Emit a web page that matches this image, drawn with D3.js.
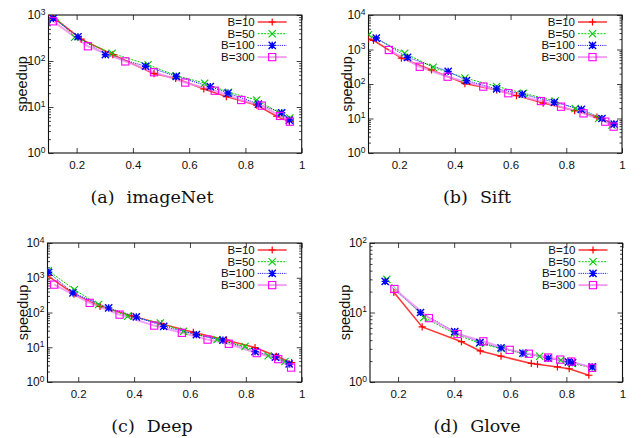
<!DOCTYPE html>
<html>
<head>
<meta charset="utf-8">
<script src="https://cdn.jsdelivr.net/npm/d3@7"></script>
<style>
  html, body { margin: 0; padding: 0; background: #fff; }
  svg { display: block; }
</style>
</head>
<body>
<script>
// ---------------- DATA ----------------
const seriesNames = ["B=10", "B=50", "B=100", "B=300"];
const xTickValues = [0.2, 0.4, 0.6, 0.8, 1];
const xTickLabels = ["0.2", "0.4", "0.6", "0.8", "1"];

// (a) imageNet  [recall, speedup]
const imageNet_B10  = [[0.11,966],[0.216,300],[0.329,137],[0.475,53],[0.552,42],[0.652,24.6],[0.732,16.8],[0.84,11],[0.911,6.3],[0.956,4.8]];
const imageNet_B50  = [[0.123,920],[0.193,327],[0.326,147],[0.454,83],[0.554,48],[0.655,33],[0.74,21],[0.84,14.2],[0.923,7.3],[0.958,5.8]];
const imageNet_B100 = [[0.117,847],[0.205,337],[0.302,137],[0.445,77],[0.554,46.5],[0.675,27.6],[0.738,20.1],[0.846,11.6],[0.929,7.5],[0.956,5.2]];
const imageNet_B300 = [[0.116,730],[0.24,209],[0.373,98],[0.475,57],[0.586,34],[0.691,22.6],[0.785,14.2],[0.858,10.7],[0.923,6.4],[0.958,4.8]];

// (b) Sift
const sift_B10  = [[0.09,2000],[0.108,1850],[0.208,565],[0.316,255],[0.436,103],[0.55,67],[0.621,46],[0.717,28],[0.83,17],[0.91,11],[0.97,7]];
const sift_B50  = [[0.09,2700],[0.22,776],[0.322,305],[0.436,150],[0.55,85],[0.647,54],[0.76,32],[0.832,19.5],[0.916,10],[0.964,6.5]];
const sift_B100 = [[0.118,2150],[0.23,594],[0.376,233],[0.442,125],[0.55,72],[0.642,51],[0.757,29.5],[0.854,18.5],[0.928,10],[0.972,6.9]];
const sift_B300 = [[0.163,968],[0.274,316],[0.374,163],[0.502,84],[0.592,54],[0.709,32],[0.781,22],[0.862,14.1],[0.94,8.1],[0.97,5.8]];

// (c) Deep
const deep_B10  = [[0.09,1150],[0.185,340],[0.278,150],[0.391,80],[0.499,47],[0.612,27],[0.731,16],[0.833,9.8],[0.91,5.5],[0.964,3.6]];
const deep_B50  = [[0.093,1600],[0.186,455],[0.273,169],[0.377,78],[0.494,50],[0.577,29],[0.697,16.7],[0.797,10.5],[0.88,5.7],[0.94,3.9]];
const deep_B100 = [[0.094,1440],[0.181,365],[0.309,136],[0.408,75],[0.506,40],[0.623,23],[0.718,16],[0.833,7.5],[0.906,5.2],[0.955,3.3]];
const deep_B300 = [[0.114,634],[0.241,189],[0.348,87],[0.472,42],[0.571,26],[0.663,16.6],[0.739,12.6],[0.839,6.8],[0.916,4.55],[0.962,2.6]];

// (d) Glove
const glove_B10  = [[0.185,19.5],[0.286,6.2],[0.426,3.8],[0.493,2.8],[0.567,2.35],[0.675,1.85],[0.697,1.8],[0.768,1.65],[0.81,1.55],[0.88,1.25]];
const glove_B50  = [[0.16,30],[0.292,8.5],[0.40,5.0],[0.49,3.6],[0.57,3.0],[0.65,2.55],[0.705,2.35],[0.78,2.05],[0.82,1.85],[0.89,1.6]];
const glove_B100 = [[0.154,28],[0.28,10],[0.402,5.3],[0.492,3.7],[0.567,3.1],[0.645,2.6],[0.735,2.2],[0.807,1.95],[0.822,1.9],[0.892,1.65]];
const glove_B300 = [[0.187,21.8],[0.31,8.3],[0.412,4.9],[0.504,3.85],[0.598,2.9],[0.666,2.55],[0.735,2.25],[0.778,2.1],[0.817,1.97],[0.892,1.6]];

const captionLabels = ["(a)", "(b)", "(c)", "(d)"];
const captionNames  = ["imageNet", "Sift", "Deep", "Glove"];
const yLabel = "speedup";

// ---------------- LAYOUT / STYLE ----------------
const W = 641, H = 438;
const panels = [
  {data:[imageNet_B10,imageNet_B50,imageNet_B100,imageNet_B300], left:48.5, right:301.7, top:15, bottom:153, xMin:0.1, yExp:3, yLabX:22, capX:152, capY:203},
  {data:[sift_B10,sift_B50,sift_B100,sift_B300], left:368.5, right:622, top:15, bottom:153, xMin:0.09, yExp:4, yLabX:347, capX:477, capY:203},
  {data:[deep_B10,deep_B50,deep_B100,deep_B300], left:47.5, right:301.7, top:243, bottom:382, xMin:0.09, yExp:4, yLabX:23, capX:152, capY:432},
  {data:[glove_B10,glove_B50,glove_B100,glove_B300], left:370, right:622.5, top:243, bottom:382, xMin:0.1, yExp:2, yLabX:345, capX:477, capY:432}
];

const lineStyles = [
  {stroke:"#ff2020", width:1.5, dash:null, opacity:0.9},
  {stroke:"#00d000", width:1.0, dash:"2,1.2", opacity:1},
  {stroke:"#2020ff", width:1.0, dash:"1.2,1", opacity:1},
  {stroke:"#f090f0", width:2.0, dash:null, opacity:0.85}
];
const markerColors = ["#ff0000", "#00cc00", "#0000ff", "#ff00ff"];

const svg = d3.select("body").append("svg").attr("width", W).attr("height", H);
svg.append("rect").attr("width", W).attr("height", H).attr("fill", "#fff");

function drawMarker(g, type, cx, cy, color) {
  const s = 3.6;
  if (type === 0) { // plus
    g.append("path").attr("d", `M${cx-s},${cy}H${cx+s}M${cx},${cy-s}V${cy+s}`).attr("stroke", color).attr("stroke-width", 1.2).attr("fill","none");
  } else if (type === 1) { // cross
    g.append("path").attr("d", `M${cx-s},${cy-s}L${cx+s},${cy+s}M${cx-s},${cy+s}L${cx+s},${cy-s}`).attr("stroke", color).attr("stroke-width", 1.1).attr("fill","none");
  } else if (type === 2) { // asterisk
    g.append("path").attr("d", `M${cx-s},${cy}H${cx+s}M${cx},${cy-s}V${cy+s}M${cx-s},${cy-s}L${cx+s},${cy+s}M${cx-s},${cy+s}L${cx+s},${cy-s}`).attr("stroke", color).attr("stroke-width", 1.4).attr("fill","none");
  } else { // open square
    g.append("rect").attr("x", cx-s).attr("y", cy-s).attr("width", 2*s).attr("height", 2*s).attr("stroke", color).attr("stroke-width", 1.1).attr("fill","none");
  }
}

panels.forEach((p, pi) => {
  const x = d3.scaleLinear().domain([p.xMin, 1]).range([p.left, p.right]);
  const y = d3.scaleLog().domain([1, Math.pow(10, p.yExp)]).range([p.bottom, p.top]);
  const g = svg.append("g");

  const clipId = "clip" + pi;
  svg.append("clipPath").attr("id", clipId).append("rect")
    .attr("x", p.left).attr("y", p.top).attr("width", p.right - p.left).attr("height", p.bottom - p.top);

  const decades = d3.range(0, p.yExp + 1).map(e => Math.pow(10, e));
  const minors = [];
  for (let e = 0; e < p.yExp; e++) for (let k = 2; k <= 9; k++) minors.push(k * Math.pow(10, e));

  // axes with inward ticks
  const axX = g.append("g").attr("transform", `translate(0,${p.bottom})`)
    .call(d3.axisBottom(x).tickValues(xTickValues).tickSize(-5).tickPadding(8)
      .tickFormat((d, i) => xTickLabels[i]));
  const axXT = g.append("g").attr("transform", `translate(0,${p.top})`)
    .call(d3.axisTop(x).tickValues(xTickValues).tickSize(-5).tickFormat(""));
  const axY = g.append("g").attr("transform", `translate(${p.left},0)`)
    .call(d3.axisLeft(y).tickValues(decades).tickSize(-5).tickFormat(""));
  const axYm = g.append("g").attr("transform", `translate(${p.left},0)`)
    .call(d3.axisLeft(y).tickValues(minors).tickSize(-2.5).tickFormat(""));
  const axYR = g.append("g").attr("transform", `translate(${p.right},0)`)
    .call(d3.axisRight(y).tickValues(decades).tickSize(-5).tickFormat(""));
  const axYRm = g.append("g").attr("transform", `translate(${p.right},0)`)
    .call(d3.axisRight(y).tickValues(minors).tickSize(-2.5).tickFormat(""));
  [axX, axXT, axY, axYm, axYR, axYRm].forEach(a => {
    a.select(".domain").remove();
    a.selectAll(".tick line").attr("stroke", "#111").attr("stroke-width", 0.8);
  });
  axX.selectAll(".tick text").attr("font-family", "Liberation Sans, Arial, sans-serif")
    .attr("font-size", 11.5).attr("fill", "#111");

  // y tick labels 10^n
  decades.forEach((v, i) => {
    const t = g.append("text").attr("x", p.left - 3).attr("y", y(v) + 4.3)
      .attr("text-anchor", "end").attr("font-family", "Liberation Sans, Arial, sans-serif").attr("fill", "#111");
    t.append("tspan").attr("font-size", 12).text("10");
    t.append("tspan").attr("font-size", 8.5).attr("dy", -4.5).text(String(i));
  });

  // box
  g.append("rect").attr("x", p.left).attr("y", p.top)
    .attr("width", p.right - p.left).attr("height", p.bottom - p.top)
    .attr("fill", "none").attr("stroke", "#111").attr("stroke-width", 1.1);

  // y label
  g.append("text").attr("transform", `translate(${p.yLabX},${(p.top + p.bottom) / 2}) rotate(-90)`)
    .attr("text-anchor", "middle").attr("dominant-baseline", "central")
    .attr("font-family", "Liberation Sans, Arial, sans-serif").attr("font-size", 14.5).attr("fill", "#111")
    .text(yLabel);

  // series
  const plot = g.append("g").attr("clip-path", `url(#${clipId})`);
  const line = d3.line().x(d => x(d[0])).y(d => y(d[1]));
  p.data.forEach((ser, si) => {
    const st = lineStyles[si];
    plot.append("path").datum(ser).attr("d", line)
      .attr("fill", "none").attr("stroke", st.stroke).attr("stroke-width", st.width)
      .attr("stroke-opacity", st.opacity).attr("stroke-dasharray", st.dash);
  });
  p.data.forEach((ser, si) => {
    ser.forEach(d => drawMarker(plot, si, x(d[0]), y(d[1]), markerColors[si]));
  });

  // legend
  seriesNames.forEach((name, si) => {
    const ly = p.top + 7 + si * 11.7;
    g.append("text").attr("x", p.right - 47).attr("y", ly).attr("dy", "0.35em")
      .attr("text-anchor", "end").attr("font-family", "Liberation Sans, Arial, sans-serif")
      .attr("font-size", 11.5).attr("fill", "#111").text(name);
    const st = lineStyles[si];
    g.append("line").attr("x1", p.right - 44).attr("x2", p.right - 15).attr("y1", ly).attr("y2", ly)
      .attr("stroke", st.stroke).attr("stroke-width", st.width).attr("stroke-opacity", st.opacity)
      .attr("stroke-dasharray", st.dash);
    drawMarker(g, si, p.right - 29.5, ly, markerColors[si]);
  });

  // caption
  const cap = svg.append("text").attr("x", p.capX).attr("y", p.capY).attr("text-anchor", "middle")
    .attr("font-family", "DejaVu Serif, serif").attr("font-size", 17.5).attr("fill", "#111");
  cap.append("tspan").text(captionLabels[pi]);
  cap.append("tspan").attr("dx", 12).text(captionNames[pi]);
});
</script>
</body>
</html>
